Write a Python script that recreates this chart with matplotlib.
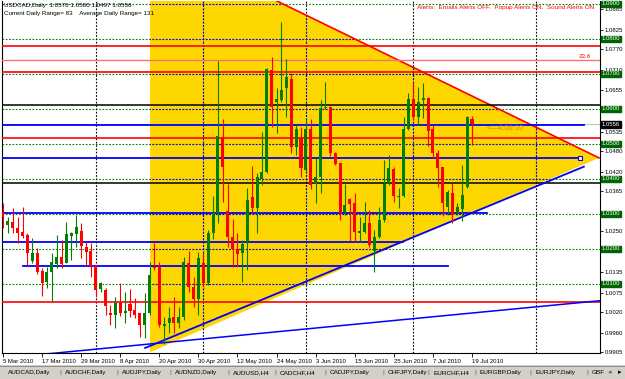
import numpy as np
import matplotlib
matplotlib.use("Agg")
import matplotlib.pyplot as plt
from matplotlib.patches import Polygon
from matplotlib.transforms import blended_transform_factory

plt.rcParams['font.family'] = ['Liberation Sans', 'DejaVu Sans']

# daily USDCAD candles, 5 Mar 2010 .. 19 Jul 2010
opens = [1.0305, 1.0268, 1.0276, 1.0259, 1.0248, 1.0240, 1.0165, 1.0188, 1.0137, 1.0105,
         1.0134, 1.0157, 1.0177, 1.0160, 1.0237, 1.0242, 1.0251, 1.0205, 1.0194, 1.0151,
         1.0085, 1.0083, 1.0017, 1.0011, 1.0045, 1.0017, 1.0042, 1.0025, 1.0017, 0.9983,
         1.0017, 1.0148, 1.0148, 0.9980, 0.9988, 1.0005, 0.9988, 1.0005, 1.0160, 1.0091,
         1.0057, 1.0160, 1.0102, 1.0245, 1.0302, 1.0520, 1.0308, 1.0234, 1.0200, 1.0188,
         1.0220, 1.0348, 1.0317, 1.0400, 1.0420, 1.0711, 1.0620, 1.0625, 1.0660, 1.0685,
         1.0491, 1.0520, 1.0425, 1.0542, 1.0385, 1.0405, 1.0602, 1.0605, 1.0474, 1.0445,
         1.0302, 1.0342, 1.0331, 1.0245, 1.0248, 1.0274, 1.0194, 1.0234, 1.0282, 1.0385,
         1.0428, 1.0348, 1.0351, 1.0542, 1.0628, 1.0577, 1.0625, 1.0631, 1.0542, 1.0474,
         1.0434, 1.0320, 1.0360, 1.0302, 1.0314, 1.0377, 1.0570]
highs = [1.0331, 1.0291, 1.0317, 1.0291, 1.0320, 1.0245, 1.0231, 1.0202, 1.0145, 1.0148,
         1.0188, 1.0240, 1.0225, 1.0276, 1.0248, 1.0297, 1.0274, 1.0220, 1.0217, 1.0154,
         1.0105, 1.0088, 1.0040, 1.0062, 1.0102, 1.0077, 1.0085, 1.0060, 1.0017, 1.0074,
         1.0162, 1.0217, 1.0162, 1.0005, 1.0034, 1.0062, 1.0034, 1.0177, 1.0194, 1.0120,
         1.0191, 1.0188, 1.0254, 1.0351, 1.0737, 1.0571, 1.0385, 1.0285, 1.0245, 1.0225,
         1.0374, 1.0437, 1.0417, 1.0534, 1.0717, 1.0748, 1.0660, 1.0848, 1.0742, 1.0702,
         1.0557, 1.0548, 1.0571, 1.0571, 1.0460, 1.0625, 1.0677, 1.0608, 1.0477, 1.0445,
         1.0385, 1.0345, 1.0360, 1.0291, 1.0334, 1.0311, 1.0254, 1.0320, 1.0454, 1.0468,
         1.0434, 1.0374, 1.0577, 1.0645, 1.0674, 1.0662, 1.0674, 1.0634, 1.0554, 1.0482,
         1.0434, 1.0368, 1.0388, 1.0331, 1.0440, 1.0580, 1.0580]
lows = [1.0259, 1.0245, 1.0245, 1.0217, 1.0231, 1.0154, 1.0160, 1.0128, 1.0065, 1.0088,
        1.0051, 1.0145, 1.0145, 1.0160, 1.0168, 1.0205, 1.0174, 1.0154, 1.0120, 1.0062,
        1.0077, 1.0011, 0.9983, 0.9974, 1.0008, 0.9988, 1.0005, 1.0002, 0.9948, 0.9945,
        1.0011, 1.0140, 0.9977, 0.9928, 0.9960, 0.9960, 0.9974, 0.9997, 1.0077, 1.0034,
        1.0011, 1.0091, 1.0097, 1.0228, 1.0274, 1.0334, 1.0205, 1.0148, 1.0148, 1.0105,
        1.0140, 1.0302, 1.0245, 1.0382, 1.0417, 1.0548, 1.0531, 1.0620, 1.0577, 1.0474,
        1.0468, 1.0405, 1.0417, 1.0371, 1.0331, 1.0360, 1.0600, 1.0465, 1.0440, 1.0282,
        1.0297, 1.0222, 1.0220, 1.0220, 1.0245, 1.0205, 1.0134, 1.0231, 1.0276, 1.0382,
        1.0334, 1.0317, 1.0348, 1.0540, 1.0568, 1.0554, 1.0574, 1.0494, 1.0460, 1.0377,
        1.0294, 1.0297, 1.0274, 1.0297, 1.0279, 1.0374, 1.0497]
closes = [1.0291, 1.0279, 1.0259, 1.0245, 1.0237, 1.0188, 1.0188, 1.0134, 1.0102, 1.0134,
          1.0162, 1.0177, 1.0157, 1.0242, 1.0245, 1.0262, 1.0208, 1.0191, 1.0151, 1.0083,
          1.0102, 1.0037, 1.0011, 1.0045, 1.0017, 1.0022, 1.0022, 1.0011, 0.9983, 1.0017,
          1.0125, 1.0145, 0.9983, 0.9985, 1.0002, 0.9988, 1.0005, 1.0162, 1.0091, 1.0057,
          1.0174, 1.0102, 1.0245, 1.0302, 1.0522, 1.0434, 1.0234, 1.0200, 1.0185, 1.0214,
          1.0340, 1.0317, 1.0405, 1.0420, 1.0714, 1.0605, 1.0628, 1.0654, 1.0691, 1.0491,
          1.0542, 1.0431, 1.0542, 1.0382, 1.0405, 1.0602, 1.0605, 1.0474, 1.0442, 1.0302,
          1.0325, 1.0328, 1.0248, 1.0251, 1.0274, 1.0211, 1.0234, 1.0282, 1.0385, 1.0431,
          1.0351, 1.0351, 1.0542, 1.0628, 1.0577, 1.0620, 1.0631, 1.0537, 1.0474, 1.0431,
          1.0331, 1.0362, 1.0297, 1.0320, 1.0354, 1.0577, 1.0556]

date_labels = ['5 Mar 2010', '17 Mar 2010', '29 Mar 2010', '8 Apr 2010', '20 Apr 2010',
               '30 Apr 2010', '12 May 2010', '24 May 2010', '3 Jun 2010', '15 Jun 2010',
               '25 Jun 2010', '7 Jul 2010', '19 Jul 2010']
price_labels = [1.0885, 1.0825, 1.0770, 1.0712, 1.0655, 1.0535, 1.0480, 1.0420, 1.0365,
                1.0250, 1.0135, 1.0075, 1.0020, 0.9960, 0.9905]
round_levels = [1.0900, 1.0800, 1.0700, 1.0600, 1.0500, 1.0400, 1.0300, 1.0200, 1.0100]
red_levels = [1.0780, 1.0705, 1.0518, 1.0049]
fib_level = 1.0740
black_levels = [1.0611, 1.0388]
blue_levels = [1.0555, 1.0461, 1.0303, 1.0221, 1.0152]
blue_from = [-0.2, -0.2, 0.0, -0.2, 4.1]
blue_to = [119.0, 118.1, 99.1, 81.9, 91.1]
separators = [19, 41, 62, 84, 109]
tri_x = [30.1, 30.1, 122.0]
tri_y = [1.1085, 0.9905, 1.0460]
support_x = [29.1, 118.9]
support_y = [0.9917, 1.0435]
long_x = [0.0, 122.2]
long_y = [0.9888, 1.0052]
bid = 1.0556
tabs = ['AUDCAD,Daily', 'AUDCHF,Daily', 'AUDJPY,Daily', 'AUDNZD,Daily', 'AUDUSD,H4',
        'CADCHF,H4', 'CADJPY,Daily', 'CHFJPY,Daily', 'EURCHF,H4', 'EURGBP,Daily',
        'EURJPY,Daily', 'GBF']
tab_x = [8, 65, 122, 175, 233, 280, 330, 388, 433, 480, 535, 592]

W, H = 625, 379
fig = plt.figure(figsize=(W / 100, H / 100), dpi=100)
ax = fig.add_axes([2 / W, (H - 353) / H, 598 / W, 352 / H])
ax.set_xlim(-0.2, 122.2)
ax.set_ylim(0.99026, 1.09083)

# yellow triangle and its edges
tri = Polygon(list(zip(tri_x, tri_y)), closed=True, fc='#FFD700', ec='none', zorder=1)
ax.add_patch(tri)
ax.plot([tri_x[0], tri_x[2]], [tri_y[0], tri_y[2]], color='#FF0000', lw=1.2, zorder=3)

# round levels and period separators (blue where they cross the triangle)
for lv in round_levels:
    ax.axhline(lv, color='#008000', lw=0.8, ls=(0, (1.5, 1.5)), zorder=2)
    l2 = ax.axhline(lv, color='#0000FF', lw=0.8, ls=(0, (1.5, 1.5)), zorder=2)
    l2.set_clip_path(tri)
for sx in separators:
    ax.axvline(sx, color='#000000', lw=0.8, ls=(0, (1.5, 1.5)), zorder=2)
    l2 = ax.axvline(sx, color='#0000FF', lw=0.8, ls=(0, (1.5, 1.5)), zorder=2)
    l2.set_clip_path(tri)

ax.axhline(bid, color='#C0C0C0', lw=0.8, zorder=2)
for lv in red_levels:
    ax.axhline(lv, color='#FF0000', lw=1.2, zorder=3)
ax.axhline(fib_level, color='#FF7070', lw=1.0, zorder=3)
for lv in black_levels:
    ax.axhline(lv, color='#000000', lw=1.1, zorder=3)
for lv, a, b in zip(blue_levels, blue_from, blue_to):
    ax.plot([a, b], [lv, lv], color='#0000FF', lw=1.3, zorder=3)
ax.plot(blue_to[1], blue_levels[1], marker='s', ms=3, mfc='white', mec='#0000FF',
        mew=0.8, zorder=3)
ax.plot(support_x, support_y, color='#0000FF', lw=1.3, zorder=3)
ax.plot(long_x, long_y, color='#0000FF', lw=1.1, zorder=3)

# candles
idx = np.arange(len(opens))
o = np.array(opens)
c = np.array(closes)
cols = np.where(c >= o, '#008000', '#FF0000')
ax.vlines(idx, lows, highs, colors=cols, lw=0.8, zorder=5)
ax.bar(idx, np.maximum(np.abs(c - o), 0.0001), bottom=np.minimum(o, c), width=0.62,
       color=cols, lw=0, zorder=6)

ax.text(120.3, fib_level + 0.0002, '23.6', color='#FF0000', fontsize=4.5, ha='right',
        va='bottom', zorder=4)
ax.text(98.9, 1.0545, '<\u20144:06:10', color='#C88A00', fontsize=5.5, ha='left',
        va='center', zorder=4)

# axes styling
for s in ax.spines.values():
    s.set_color('black')
    s.set_linewidth(0.8)
ax.spines['top'].set_visible(False)
ax.yaxis.tick_right()
ax.set_yticks(price_labels)
ax.set_yticklabels([f'{v:.4f}' if v != 1.0712 else '1.0710' for v in price_labels])
ax.tick_params(axis='y', labelsize=4.3, length=2, pad=1.5, width=0.6)
ax.set_xticks(np.arange(0, len(opens), 8))
ax.set_xticklabels(date_labels)
ax.tick_params(axis='x', labelsize=4.3, length=3, pad=1, width=0.6)
for t in ax.get_xticklabels():
    t.set_ha('left')

trans = blended_transform_factory(fig.transFigure, ax.transData)
for lv in round_levels:
    fig.text(601.5 / W, lv, f'{lv:.4f}', transform=trans, color='white', fontsize=4.3,
             ha='left', va='center',
             bbox=dict(boxstyle='square,pad=0.15', fc='#006400', ec='#006400'))
fig.text(601.5 / W, bid, f'{bid:.4f}', transform=trans, color='white', fontsize=4.3,
         ha='left', va='center', bbox=dict(boxstyle='square,pad=0.15', fc='black', ec='black'))

fig.text(4 / W, 1 - 6 / H, 'USDCAD,Daily  1.0570 1.0580 1.0497 1.0556', fontsize=4.5,
         va='center', ha='left')
fig.text(4 / W, 1 - 14 / H, 'Current Daily Range= 83    Average Daily Range= 131', fontsize=4.5,
         va='center', ha='left')
fig.text(594 / W, 1 - 7 / H, 'Alerts:  Emails Alerts OFF.  Popup Alerts ON.  Sound Alerts ON',
         fontsize=4.6, va='center', ha='right', color='#FF0000')

# terminal tab bar
tb = fig.add_axes([0, 0, 1, 14 / H])
tb.set_xlim(0, W)
tb.set_ylim(0, 14)
tb.set_facecolor('#D4D0C8')
tb.set_xticks([])
tb.set_yticks([])
for s in tb.spines.values():
    s.set_visible(False)
tb.axhline(13.5, color='#808080', lw=0.6)
for name, x0 in zip(tabs, tab_x):
    tb.text(x0, 6.5, name, fontsize=4.6, va='center', ha='left', clip_on=True)
    if x0 > 8:
        tb.text(x0 - 5, 6.5, '|', fontsize=4.6, va='center', ha='center', color='#606060')
tb.text(610, 6.5, '\u25c2', fontsize=5, va='center', ha='center', color='#606060',
        family='DejaVu Sans')
tb.text(620, 6.5, '\u25b8', fontsize=5, va='center', ha='center', family='DejaVu Sans')

fig.savefig('out.png', dpi=100)
